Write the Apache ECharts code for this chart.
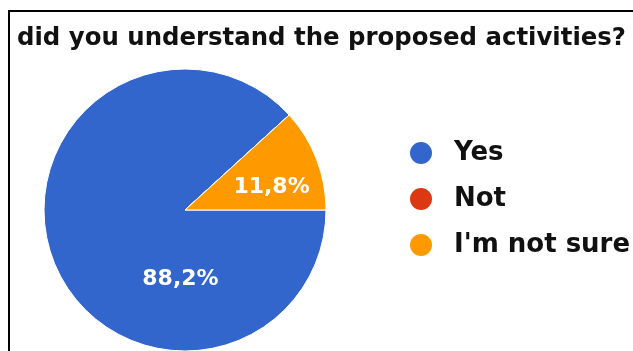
<!DOCTYPE html>
<html>
<head>
<meta charset="utf-8">
<script src="https://cdn.jsdelivr.net/npm/echarts@6/dist/echarts.min.js"></script>
<style>
html,body{margin:0;padding:0;background:#fff;}
#chart{width:633px;height:351px;}
</style>
</head>
<body>
<div id="chart"></div>
<script>
const titleText = "did you understand the proposed activities?";
const categories = ["Yes", "Not", "I'm not sure"];
const counts = [15, 0, 2];
const colors = ["#3366cc", "#dc3912", "#ff9900"];
const labelOffsets = [[64, 43], [0, 0], [18, 4]];

const chart = echarts.init(document.getElementById('chart'));
const FONT = "DejaVu Sans";

chart.setOption({
  backgroundColor: '#fff',
  animation: false,
  title: {
    text: titleText,
    left: 17,
    top: 27,
    padding: 0,
    textStyle: { fontFamily: FONT, fontWeight: 'bold', fontSize: 24.4, color: '#111' }
  },
  legend: {
    orient: 'vertical',
    left: 408,
    top: 140,
    padding: 0,
    icon: 'circle',
    itemWidth: 24,
    itemHeight: 24,
    itemGap: 20,
    data: categories,
    textStyle: { fontFamily: FONT, fontWeight: 'bold', fontSize: 26, color: '#111', lineHeight: 26, padding: [0, 0, 0, 16] }
  },
  graphic: [{
    type: 'rect',
    shape: { x: 9, y: 11, width: 700, height: 400 },
    style: { fill: 'none', stroke: '#000', lineWidth: 2 },
    silent: true
  }],
  series: [{
    type: 'pie',
    center: [185, 210],
    radius: [0, 141],
    startAngle: 0,
    clockwise: true,
    percentPrecision: 1,
    itemStyle: { borderColor: '#fff', borderWidth: 1 },
    label: {
      show: true,
      position: 'inside',
      fontFamily: FONT,
      fontWeight: 'bold',
      fontSize: 22,
      color: '#fff',
      formatter: p => p.value > 0 ? String(p.percent).replace('.', ',') + '%' : ''
    },
    labelLine: { show: false },
    emphasis: { disabled: true },
    data: categories.map((c, i) => ({
      name: c,
      value: counts[i],
      itemStyle: { color: colors[i] },
      label: { offset: labelOffsets[i] }
    }))
  }]
});
</script>
</body>
</html>
